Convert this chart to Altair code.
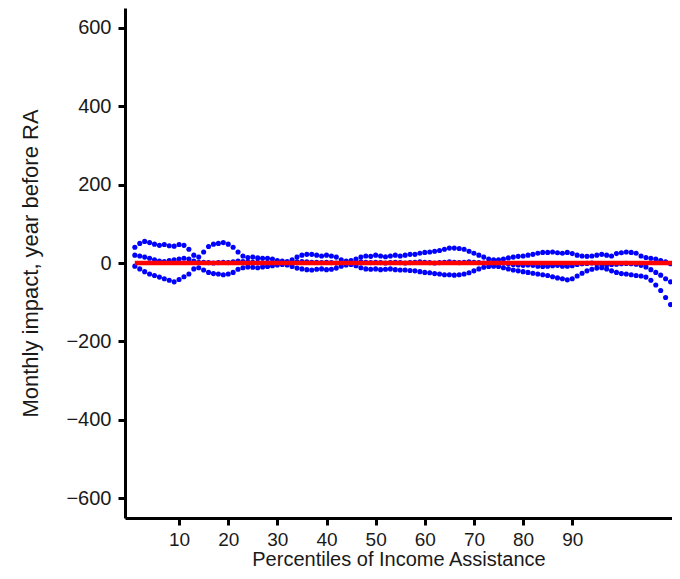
import altair as alt
import pandas as pd

percentile = list(range(1, 111))

upper = [40, 50, 55, 52, 48, 45, 47, 44, 43, 47,
         45, 35, 20, 15, 28, 42, 48, 50, 52, 48,
         40, 28, 18, 14, 15, 13, 12, 12, 10, 6,
         5, 4, 8, 15, 20, 22, 22, 20, 18, 20,
         18, 15, 8, 5, 6, 10, 15, 18, 17, 20,
         18, 16, 18, 20, 18, 20, 22, 22, 25, 27,
         28, 30, 32, 35, 38, 38, 37, 35, 30, 25,
         20, 15, 10, 8, 8, 10, 13, 15, 17, 18,
         20, 22, 25, 27, 27, 28, 26, 25, 27, 24,
         20, 18, 17, 18, 20, 22, 20, 18, 24, 26,
         28, 27, 25, 18, 14, 12, 10, 6, 3, -2]

middle = [20, 18, 15, 12, 8, 5, 4, 6, 8, 10,
          12, 10, 5, 2, 2, 1, 0, 1, 2, 1,
          3, 5, 4, 3, 2, 2, 0, 1, 0, -1,
          0, 1, 2, 3, 4, 3, 2, 2, 1, 2,
          1, 0, -1, 0, 1, 2, 3, 2, 1, 2,
          1, 0, 1, 2, 1, 0, 1, 2, 3, 2,
          1, 0, 1, 2, 3, 2, 1, 2, 3, 2,
          1, 0, -1, -2, -1, 0, -2, -4, -5, -6,
          -5, -6, -8, -9, -8, -7, -6, -8, -8, -7,
          -4, -2, -1, 0, -2, -4, -5, -4, -3, -2,
          -1, -2, -3, -6, -10, -17, -24, -31, -40, -48]

lower = [-8, -15, -22, -28, -32, -36, -40, -44, -48, -42,
         -35, -28, -15, -12, -18, -24, -27, -28, -30, -28,
         -24, -16, -12, -10, -11, -12, -10, -9, -7, -5,
         -4, -5, -9, -13, -15, -17, -18, -16, -15, -17,
         -16, -13, -8, -5, -4, -7, -12, -15, -16, -15,
         -17, -16, -15, -17, -18, -18, -19, -20, -22, -24,
         -25, -27, -28, -30, -30, -31, -30, -28, -25, -20,
         -15, -11, -9, -8, -9, -12, -15, -18, -20, -22,
         -24, -26, -28, -30, -32, -35, -38, -40, -43, -40,
         -33, -26, -20, -16, -13, -12, -15, -20, -24, -27,
         -28, -30, -32, -33, -36, -44, -56, -70, -88, -106]

x_ticks = [10, 20, 30, 40, 50, 60, 70, 80, 90]
y_ticks = [-600, -400, -200, 0, 200, 400, 600]

rows = []
for name, series in [("upper", upper), ("estimate", middle), ("lower", lower)]:
    for p, v in zip(percentile, series):
        rows.append({"percentile": p, "impact": v, "series": name})
df = pd.DataFrame(rows)

zero_df = pd.DataFrame({"x": [1], "x2": [112], "y": [0]})

xscale = alt.Scale(domain=[-1, 110.3], nice=False, zero=False)
yscale = alt.Scale(domain=[-650, 650], nice=False)

points = alt.Chart(df).mark_circle(size=26, color="#0000FF", opacity=1, clip=True).encode(
    x=alt.X("percentile:Q", scale=xscale,
            axis=alt.Axis(values=x_ticks, title="Percentiles of Income Assistance",
                          labelPadding=5, labelFontSize=19,
                          titlePadding=0, titleFontSize=20)),
    y=alt.Y("impact:Q", scale=yscale,
            axis=alt.Axis(values=y_ticks, title="Monthly impact, year before RA",
                          labelPadding=7, titlePadding=23)),
)

zero_line = alt.Chart(zero_df).mark_rule(color="#FF0000", strokeWidth=4.5, clip=True).encode(
    x=alt.X("x:Q", scale=xscale),
    x2="x2",
    y=alt.Y("y:Q", scale=yscale),
)

chart = alt.layer(points, zero_line).properties(
    width=547,
    height=510,
    autosize=alt.AutoSizeParams(type="none"),
    padding={"left": 117, "top": 0, "right": 0, "bottom": 53},
    background="white",
).configure_view(stroke=None).configure_axis(
    grid=False,
    domainColor="black",
    domainWidth=3,
    tickColor="black",
    tickWidth=3,
    tickSize=7,
    labelFont="Liberation Sans",
    labelFontSize=20,
    labelColor="#1a1a1a",
    titleFont="Liberation Sans",
    titleFontSize=22,
    titleFontWeight="normal",
    titleColor="#1a1a1a",
)

chart.save("out.html", embed_options={"renderer": "svg", "actions": False})
